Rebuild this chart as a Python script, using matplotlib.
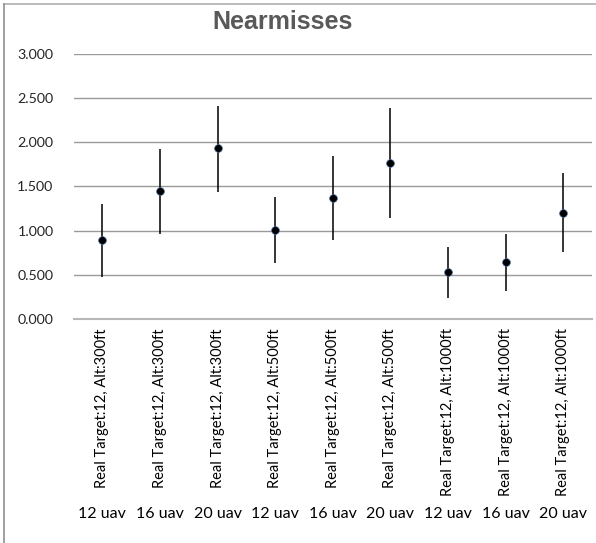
import matplotlib
matplotlib.use("Agg")
import matplotlib.pyplot as plt
from matplotlib.lines import Line2D
import numpy as np

categories = ["Real Target:12, Alt:300ft", "Real Target:12, Alt:300ft", "Real Target:12, Alt:300ft",
              "Real Target:12, Alt:500ft", "Real Target:12, Alt:500ft", "Real Target:12, Alt:500ft",
              "Real Target:12, Alt:1000ft", "Real Target:12, Alt:1000ft", "Real Target:12, Alt:1000ft"]
uav_labels = ["12 uav", "16 uav", "20 uav", "12 uav", "16 uav", "20 uav", "12 uav", "16 uav", "20 uav"]
means = [0.89, 1.45, 1.93, 1.01, 1.37, 1.77, 0.53, 0.65, 1.20]
upper = [1.30, 1.92, 2.41, 1.38, 1.84, 2.39, 0.81, 0.96, 1.65]
lower = [0.47, 0.96, 1.44, 0.63, 0.89, 1.14, 0.24, 0.32, 0.76]
yticks = [0.0, 0.5, 1.0, 1.5, 2.0, 2.5, 3.0]

W, H = 596, 543
fig = plt.figure(figsize=(W / 100, H / 100), dpi=100)
ax_left, ax_right = 73.5 / W, 592 / W
ax_bottom, ax_top = 1 - 319 / H, 1 - 53.8 / H
ax = fig.add_axes([ax_left, ax_bottom, ax_right - ax_left, ax_top - ax_bottom])

x = np.arange(len(means))
m = np.array(means)
yerr = np.vstack([m - np.array(lower), np.array(upper) - m])
ax.errorbar(x, m, yerr=yerr, fmt="o", color="black", ecolor="black", elinewidth=1.1,
            capsize=0, markersize=5.6, markeredgecolor="#4a6fa5", markeredgewidth=0.5, zorder=3)

ax.set_xlim(-0.5, len(means) - 0.5)
ax.set_ylim(0, 3.0)
ax.set_yticks(yticks)
ax.set_yticklabels([f"{v:.3f}" for v in yticks], fontfamily="Lato", fontsize=10.3, color="#262626")
ax.tick_params(axis="y", length=0, pad=14.4)
ax.set_xticks([])
ax.grid(axis="y", color="#9a9a9a", linewidth=1.0, zorder=0)
for s in ["top", "right", "left"]:
    ax.spines[s].set_visible(False)
ax.spines["bottom"].set_color("#b8b8b8")
ax.spines["bottom"].set_linewidth(1.5)

trans = ax.get_xaxis_transform()
for i, (c, u) in enumerate(zip(categories, uav_labels)):
    ax.text(i, -(328 - 319) / (319 - 53.8), c, transform=trans, rotation=90,
            ha="center", va="top", fontfamily="Lato", fontsize=10.5, color="black")
    fig.text((73.5 + (i + 0.5) * (592 - 73.5) / 9) / W, 1 - 514 / H, u,
             ha="center", va="center", fontfamily="Lato", fontsize=11.5, color="black")

fig.text(283 / W, 1 - 22 / H, "Nearmisses", ha="center", va="center",
         fontfamily="Liberation Sans", fontweight="bold", fontsize=18, color="#595959")

# partial frame (top and left)
fig.add_artist(Line2D([4 / W, 1], [1 - 4 / H, 1 - 4 / H], transform=fig.transFigure,
                      color="#b0b0b0", linewidth=1.2))
fig.add_artist(Line2D([4 / W, 4 / W], [0, 1 - 4 / H], transform=fig.transFigure,
                      color="#909090", linewidth=1.2))

fig.savefig("out.png", dpi=100)
